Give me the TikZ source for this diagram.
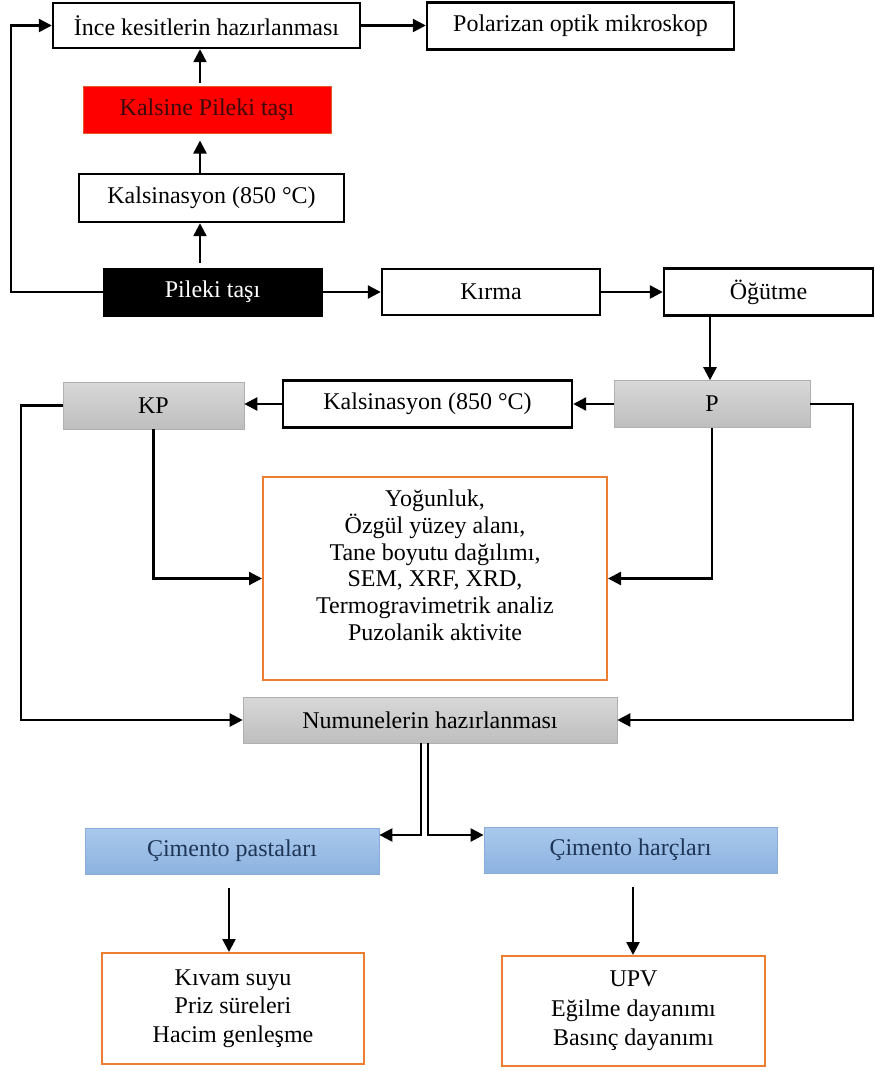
\documentclass[tikz,border=0pt]{standalone}
\usepackage{fontspec}
\setmainfont{Liberation Serif}
\usetikzlibrary{arrows.meta}
\definecolor{orbox}{HTML}{ED7D31}
\definecolor{bluetop}{HTML}{AAC9EC}
\definecolor{bluebot}{HTML}{8CB2E0}
\definecolor{blueline}{HTML}{89ACD8}
\definecolor{bluetext}{HTML}{1F3556}
\definecolor{graytop}{HTML}{D8D8D8}
\definecolor{graybot}{HTML}{BEBEBE}
\definecolor{grayline}{HTML}{B0B0B0}
\definecolor{redline}{HTML}{E2582A}
\definecolor{redtext}{HTML}{3A0A0A}
\tikzset{
  sz/.style n args={2}{minimum width=#1pt, minimum height=#2pt},
  base/.style={font=\fontsize{24}{28}\selectfont, inner sep=0pt, align=center},
  wbox/.style={base, draw=black, line width=2.4pt, fill=white},
  redbox/.style={base, draw=redline, line width=1pt, fill=red, text=redtext},
  blackbox/.style={base, draw=black, line width=1pt, fill=black, text=white},
  graybox/.style={base, draw=grayline, line width=0.6pt, top color=graytop, bottom color=graybot, text=black},
  bluebox/.style={base, draw=blueline, line width=0.8pt, top color=bluetop, bottom color=bluebot, text=bluetext},
  obox/.style={base, draw=orbox, line width=2pt, fill=white, text=black},
  arr/.style={draw=black, line width=2.4pt, -{Triangle[length=13pt, width=13pt]}},
}
\begin{document}
\begin{tikzpicture}[x=1pt, y=-1pt]
\useasboundingbox[fill=white] (0,0) rectangle (875,1071);

% top part
\node[wbox, sz={307}{45}] (ince) at (206.5,25.5) {İnce kesitlerin hazırlanması};
\node[wbox, sz={307}{47}] (polar) at (580.5,26) {Polarizan optik mikroskop};
\node[redbox, sz={248}{47}] (kred) at (207,109.5) {Kalsine Pileki taşı};
\node[wbox, sz={265}{48}] (kals1) at (211.5,198) {Kalsinasyon (850 °C)};
\node[blackbox, sz={219}{48}] (pileki) at (212.5,292) {Pileki taşı};
\node[wbox, sz={218}{46}] (kirma) at (491,292) {Kırma};
\node[wbox, sz={209}{47}] (ogut) at (768.5,292) {Öğütme};

% middle part
\node[graybox, sz={181}{47}] (kp) at (153.5,405.5) {KP};
\node[wbox, sz={289}{47}] (kals2) at (427.5,404) {Kalsinasyon (850 °C)};
\node[graybox, sz={196}{47}] (p) at (712,404) {P};
\node[obox, sz={344}{203}, font=\fontsize{24}{26.8}\selectfont] (anal) at (435,578.5)
  {Yoğunluk,\\Özgül yüzey alanı,\\Tane boyutu dağılımı,\\SEM, XRF, XRD,\\Termogravimetrik analiz\\Puzolanik aktivite\\\mbox{}};
\node[graybox, sz={374}{46}] (num) at (430,720) {Numunelerin hazırlanması};

% bottom part
\node[bluebox, sz={294}{46}] (past) at (232,851) {Çimento pastaları};
\node[bluebox, sz={293}{46}] (harc) at (630.5,850) {Çimento harçları};
\node[obox, sz={262}{111}, font=\fontsize{24}{28.5}\selectfont] (kivam) at (233,1008.5)
  {Kıvam suyu\\Priz süreleri\\Hacim genleşme};
\node[obox, sz={263}{110}, font=\fontsize{24}{29.5}\selectfont] (upv) at (633.5,1011)
  {UPV\\Eğilme dayanımı\\Basınç dayanımı};

% helper coordinates
\coordinate (lx1) at (11,0);
\coordinate (cx200) at (200,0);
\coordinate (cx710) at (710,0);
\coordinate (lx2) at (21,0);
\coordinate (rx2) at (853,0);
\coordinate (b1) at (421,835);
\coordinate (b2) at (428,835);
\coordinate (cx229) at (229,0);
\coordinate (cx633) at (633,0);

% connectors, top
\draw[arr] (pileki.west) -- (pileki.west -| lx1) |- (ince.west);
\draw[arr] (ince.east) -- (ince.east -| polar.west);
\draw[arr, shorten <=5pt] (pileki.north -| cx200) -- (kals1.south -| cx200);
\draw[arr, shorten >=7pt] (kals1.north -| cx200) -- (kred.south -| cx200);
\draw[arr, shorten <=3pt] (kred.north -| cx200) -- (ince.south -| cx200);
\draw[arr] (pileki.east) -- (kirma.west);
\draw[arr] (kirma.east) -- (ogut.west);
\draw[arr] (ogut.south -| cx710) -- (p.north -| cx710);

% connectors, middle
\draw[arr] (p.west) -- (kals2.east);
\draw[arr] (kals2.west) -- (kals2.west -| kp.east);
\draw[arr] (kp.south) |- (anal.west);
\draw[arr] (p.south) |- (anal.east);
\draw[arr] (kp.west) -- (kp.west -| lx2) |- (num.west);
\draw[arr] (p.east) -- (p.east -| rx2) |- (num.east);

% connectors, bottom
\draw[arr] (num.south -| b1) -- (b1) -- (b1 -| past.east);
\draw[arr] (num.south -| b2) -- (b2) -- (b2 -| harc.west);
\draw[arr, shorten <=14pt] (past.south -| cx229) -- (kivam.north -| cx229);
\draw[arr, shorten <=14pt] (harc.south -| cx633) -- (upv.north -| cx633);
\end{tikzpicture}
\end{document}
